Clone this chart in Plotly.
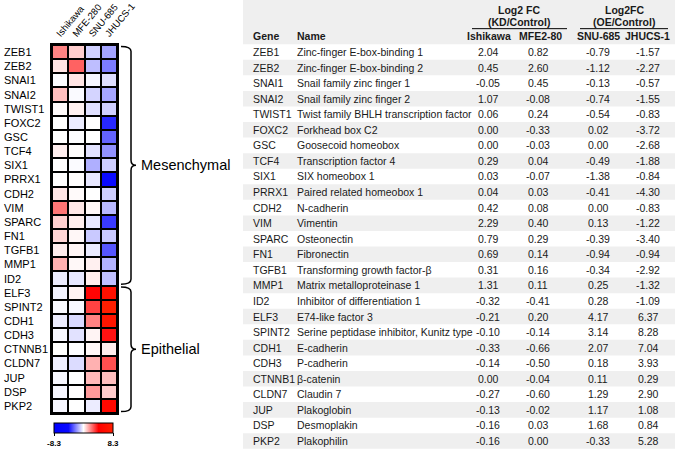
import plotly.graph_objects as go

# ---------------- data ----------------
genes = ["ZEB1", "ZEB2", "SNAI1", "SNAI2", "TWIST1", "FOXC2", "GSC", "TCF4", "SIX1", "PRRX1",
         "CDH2", "VIM", "SPARC", "FN1", "TGFB1", "MMP1", "ID2", "ELF3", "SPINT2", "CDH1",
         "CDH3", "CTNNB1", "CLDN7", "JUP", "DSP", "PKP2"]
names = ["Zinc-finger E-box-binding 1", "Zinc-finger E-box-binding 2", "Snail family zinc finger 1",
         "Snail family zinc finger 2", "Twist family BHLH transcription factor", "Forkhead box C2",
         "Goosecoid homeobox", "Transcription factor 4", "SIX homeobox 1", "Paired related homeobox 1",
         "N-cadherin", "Vimentin", "Osteonectin", "Fibronectin", "Transforming growth factor-β",
         "Matrix metalloproteinase 1", "Inhibitor of differentiation 1", "E74-like factor 3",
         "Serine peptidase inhibitor, Kunitz type", "E-cadherin", "P-cadherin", "β-catenin",
         "Claudin 7", "Plakoglobin", "Desmoplakin", "Plakophilin"]
cell_lines = ["Ishikawa", "MFE-280", "SNU-685", "JHUCS-1"]
table_cols = ["Ishikawa", "MFE2-80", "SNU-685", "JHUCS-1"]
ishikawa = [2.04, 0.45, -0.05, 1.07, 0.06, 0.00, 0.00, 0.29, 0.03, 0.04, 0.42, 2.29, 0.79, 0.69, 0.31,
            1.31, -0.32, -0.21, -0.10, -0.33, -0.14, 0.00, -0.27, -0.13, -0.16, -0.16]
mfe280 = [0.82, 2.60, 0.45, -0.08, 0.24, -0.33, -0.03, 0.04, -0.07, 0.03, 0.08, 0.40, 0.29, 0.14, 0.16,
          0.11, -0.41, 0.20, -0.14, -0.66, -0.50, -0.04, -0.60, -0.02, 0.03, 0.00]
snu685 = [-0.79, -1.12, -0.13, -0.74, -0.54, 0.02, 0.00, -0.49, -1.38, -0.41, 0.00, 0.13, -0.39, -0.94,
          -0.34, 0.25, 0.28, 4.17, 3.14, 2.07, 0.18, 0.11, 1.29, 1.17, 1.68, -0.33]
jhucs1 = [-1.57, -2.27, -0.57, -1.55, -0.83, -3.72, -2.68, -1.88, -0.84, -4.30, -0.83, -1.22, -3.40,
          -0.94, -2.92, -1.32, -1.09, 6.37, 8.28, 7.04, 3.93, 0.29, 2.90, 1.08, 0.84, 5.28]
groups = [("Mesenchymal", 0, 16), ("Epithelial", 17, 25)]
cbar_limit = 8.3

series = [ishikawa, mfe280, snu685, jhucs1]
z = [[s[i] for s in series] for i in range(len(genes))]

W, H = 675, 452
FONT = "Liberation Sans"
TXT = "#1a1a1a"


def px(x):
    return x / W


def py(y):
    return 1 - y / H


fig = go.Figure()

# ---------------- heatmap ----------------
cs = [[0.0, "rgb(0,0,255)"], [0.245, "rgb(10,10,255)"], [0.5, "rgb(255,255,255)"],
      [0.755, "rgb(255,0,0)"], [1.0, "rgb(255,30,0)"]]
fig.add_trace(go.Heatmap(
    z=z, x=list(range(len(cell_lines))), y=list(range(len(genes))),
    colorscale=cs, zmin=-cbar_limit, zmax=cbar_limit, xgap=2, ygap=2,
    hoverinfo="skip",
    colorbar=dict(orientation="h", x=px(83.5), xanchor="center", y=py(423), yanchor="top",
                  len=59, lenmode="pixels", thickness=10, xpad=0, ypad=0,
                  outlinecolor="black", outlinewidth=1,
                  tickvals=[-cbar_limit, cbar_limit], ticktext=[f"-{cbar_limit}", f"{cbar_limit}"],
                  ticks="outside", ticklen=3, tickwidth=1, tickcolor="black",
                  tickfont=dict(family=FONT, size=8, color="black", weight="bold")),
))

fig.update_layout(
    width=W, height=H, margin=dict(l=0, r=0, t=0, b=0, pad=0, autoexpand=False),
    paper_bgcolor="white", plot_bgcolor="white", showlegend=False,
    xaxis=dict(domain=[px(52), px(117)], range=[-0.5, 3.5], side="top",
               tickvals=list(range(len(cell_lines))), ticktext=cell_lines, tickangle=-50,
               tickfont=dict(family=FONT, size=9.5, color="black"),
               ticklabelshift=-3, ticklabelstandoff=0,
               showline=True, mirror=True, linecolor="black", linewidth=2,
               showgrid=False, zeroline=False, ticks="", fixedrange=True),
    yaxis=dict(domain=[py(413), py(45)], range=[len(genes) - 0.5, -0.5],
               showticklabels=False, showline=True, mirror=True, linecolor="black", linewidth=2,
               showgrid=False, zeroline=False, ticks=""),
    xaxis2=dict(domain=[px(243), 1], range=[243, 675], visible=False, anchor="y2"),
    yaxis2=dict(domain=[0, 1], range=[(452 - 52) / 15.56, -52 / 15.56], visible=False, anchor="x2"),
)

shapes = []
annotations = []

# black grid behind the heatmap cells
shapes.append(dict(type="rect", xref="x", yref="y", x0=-0.5, x1=3.5, y0=-0.5, y1=len(genes) - 0.5,
                   fillcolor="black", line=dict(width=0), layer="below"))

# gene labels on the left
for i, g in enumerate(genes):
    annotations.append(dict(x=px(2), xref="paper", xanchor="left", y=i, yref="y",
                            text=g, showarrow=False, font=dict(family=FONT, size=11, color="black")))

# group brackets
bx0, bx1, bx2 = px(121), px(131), px(136)
for label, a, b in groups:
    y0, y1 = a - 0.4, b + 0.4
    ym = (a + b) / 2
    r = 0.35
    path = (f"M {bx0},{y0} Q {bx1},{y0} {bx1},{y0 + r} L {bx1},{ym - r} "
            f"Q {bx1},{ym} {bx2},{ym} Q {bx1},{ym} {bx1},{ym + r} "
            f"L {bx1},{y1 - r} Q {bx1},{y1} {bx0},{y1}")
    shapes.append(dict(type="path", xref="paper", yref="y", path=path,
                       line=dict(color="black", width=1.5)))
    annotations.append(dict(x=px(139), xref="paper", xanchor="left", y=ym, yref="y",
                            text=label, showarrow=False, font=dict(family=FONT, size=14.5, color="black")))

# ---------------- table ----------------
shapes.append(dict(type="rect", xref="x2", yref="y2", x0=243, x1=675, y0=-3.5, y1=-0.5,
                   fillcolor="#efefef", line=dict(width=0), layer="below"))
for i in range(len(genes)):
    if i % 2 == 1:
        shapes.append(dict(type="rect", xref="x2", yref="y2", x0=243, x1=675, y0=i - 0.5, y1=i + 0.5,
                           fillcolor="#efefef", line=dict(width=0), layer="below"))

col_x = [488, 538, 598, 648]
hdr_font = dict(family=FONT, size=10.5, color=TXT, weight="bold")
body_font = dict(family=FONT, size=10.5, color=TXT)

annotations.append(dict(x=251, y=-1, xref="x2", yref="y2", xanchor="left", text="Gene",
                        showarrow=False, font=hdr_font))
annotations.append(dict(x=295, y=-1, xref="x2", yref="y2", xanchor="left", text="Name",
                        showarrow=False, font=hdr_font))
for cx, t in zip([489, 540, 598, 647], table_cols):
    annotations.append(dict(x=cx, y=-1, xref="x2", yref="y2", xanchor="center", text=t,
                            showarrow=False, font=hdr_font))
for cx, l1, l2, xa, xb in [(519, "Log2 FC", "(KD/Control)", 472, 567),
                           (624, "Log2FC", "(OE/Control)", 580, 668)]:
    annotations.append(dict(x=cx, y=-2.67, xref="x2", yref="y2", xanchor="center", text=l1,
                            showarrow=False, font=hdr_font))
    annotations.append(dict(x=cx, y=-1.95, xref="x2", yref="y2", xanchor="center", text=l2,
                            showarrow=False, font=hdr_font))
    shapes.append(dict(type="line", xref="x2", yref="y2", x0=xa, x1=xb, y0=-1.5, y1=-1.5,
                       line=dict(color="black", width=1)))

for i in range(len(genes)):
    annotations.append(dict(x=251, y=i, xref="x2", yref="y2", xanchor="left", text=genes[i],
                            showarrow=False, font=body_font))
    annotations.append(dict(x=295, y=i, xref="x2", yref="y2", xanchor="left", text=names[i],
                            showarrow=False, font=body_font))
    for cx, s in zip(col_x, series):
        annotations.append(dict(x=cx, y=i, xref="x2", yref="y2", xanchor="center",
                                text=f"{s[i]:.2f}", showarrow=False, font=body_font))

fig.update_layout(shapes=shapes, annotations=annotations)
fig.write_html("out.html", config={"displayModeBar": False},
               post_script=["document.body.style.margin='0px';document.body.style.padding='0px';"])
